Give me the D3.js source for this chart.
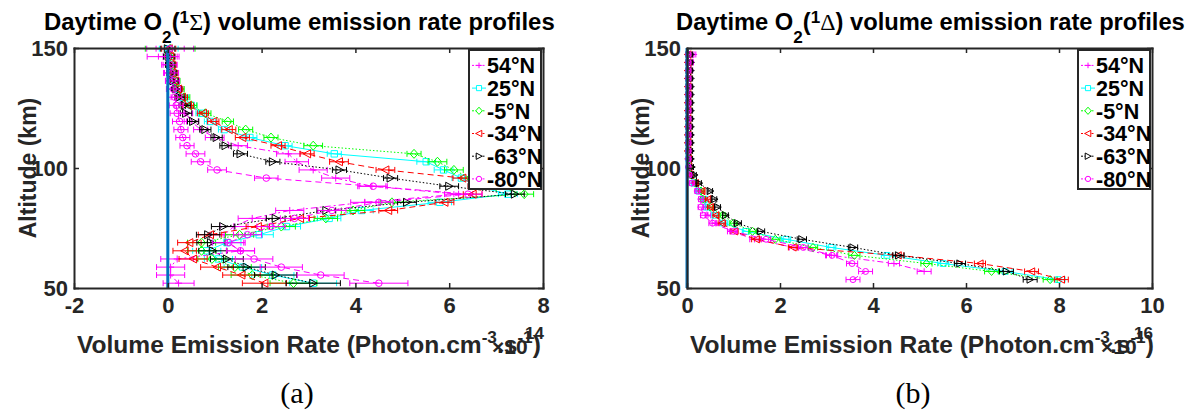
<!DOCTYPE html>
<html>
<head>
<meta charset="utf-8">
<script src="https://cdn.jsdelivr.net/npm/d3@7"></script>
<style>
body { margin: 0; background: #fff; }
svg { font-family: "Liberation Sans", Arial, sans-serif; }
</style>
</head>
<body>
<svg id="chart" width="1192" height="414"></svg>
<script>
// latitude bands (legend)
const latitudes = ["54°N", "25°N", "-5°N", "-34°N", "-63°N", "-80°N"];

// panel (a): O2(1Sigma) VER, units 1e14 photon/cm3/s
const altSigma = [52, 55.4, 58.7, 62.1, 65.5, 68.9, 72.2, 75.6, 79, 82.3, 85.7, 89.1, 92.4, 95.8, 99.2,
  102.6, 105.9, 109.3, 112.7, 116, 119.4, 122.8, 126.1, 129.5, 132.9, 136.3, 139.6, 143, 146.4, 149.7];
const sigma54  = [0.23, 0.06, 0.06, 0.2, 1.55, 1.27, 1.2, 1.41, 1.8, 2.6, 4.2, 6.2, 4.35, 3.58, 3.1,
  2.75, 2.57, 1.5, 1.0, 0.7, 0.5, 0.38, 0.3, 0.22, 0.15, 0.1, 0.06, 0.02, -0.1, 0.05];
const sigma25  = [3.1, 2.24, 1.6, 1.08, 0.83, 1.26, 1.95, 2.53, 3.44, 4.13, 5.8, 7.25, 6.6, 6.26, 5.88,
  5.51, 3.55, 2.5, 1.75, 1.2, 0.9, 0.72, 0.5, 0.32, 0.22, 0.15, 0.1, 0.06, 0.04, 0.02];
const sigmaM5  = [2.68, 1.8, 1.43, 0.94, 0.72, 0.72, 1.53, 2.42, 3.37, 3.95, 4.78, 7.6, 7.0, 6.45, 6.1,
  5.75, 5.25, 3.1, 2.2, 1.66, 1.28, 0.8, 0.5, 0.35, 0.25, 0.16, 0.1, 0.06, 0.03, 0.05];
const sigmaM34 = [2.06, 1.57, 1.05, 0.54, 0.36, 0.46, 0.9, 1.92, 2.82, 4.7, 5.9, 6.5, 6.6, 6.28, 4.64,
  3.65, 2.97, 2.35, 1.59, 1.3, 0.97, 0.75, 0.43, 0.3, 0.22, 0.15, 0.1, 0.08, 0.05, 0.02];
const sigmaM63 = [3.1, 2.3, 1.68, 1.26, 0.96, 0.92, 0.86, 1.18, 2.3, 3.38, 5.1, 7.4, 6.0, 4.75, 3.66,
  2.24, 1.55, 1.23, 1.04, 0.8, 0.54, 0.39, 0.36, 0.25, 0.18, 0.12, 0.08, 0.05, 0.03, 0.0];
const sigmaM80 = [4.5, 3.26, 2.42, 1.84, 1.55, 1.3, 1.7, 2.2, 2.7, 3.5, 4.5, 6.4, 4.38, 2.1, 1.05,
  0.7, 0.59, 0.41, 0.32, 0.28, 0.25, 0.2, 0.18, 0.15, 0.12, 0.1, 0.08, 0.05, 0.0, 0.05];

// error half widths, panel (a)
const errSigma54  = [0.33, 0.3, 0.3, 0.35, 0.3, 0.35, 0.3, 0.3, 0.3, 0.3, 0.3, 0.3, 0.3, 0.3, 0.3,
  0.25, 0.25, 0.2, 0.2, 0.15, 0.15, 0.15, 0.15, 0.15, 0.15, 0.15, 0.15, 0.15, 0.34, 0.5];
const errSigma25  = [0.5, 0.45, 0.4, 0.3, 0.3, 0.3, 0.3, 0.3, 0.25, 0.25, 0.25, 0.2, 0.2, 0.2, 0.2,
  0.2, 0.15, 0.15, 0.15, 0.12, 0.12, 0.12, 0.12, 0.12, 0.1, 0.1, 0.1, 0.1, 0.1, 0.2];
const errSigmaM5  = [0.5, 0.45, 0.35, 0.3, 0.3, 0.3, 0.3, 0.3, 0.25, 0.25, 0.25, 0.2, 0.2, 0.2, 0.2,
  0.2, 0.15, 0.2, 0.15, 0.15, 0.12, 0.12, 0.12, 0.12, 0.1, 0.1, 0.1, 0.1, 0.1, 0.53];
const errSigmaM34 = [0.47, 0.4, 0.35, 0.3, 0.25, 0.25, 0.25, 0.25, 0.2, 0.2, 0.2, 0.2, 0.2, 0.2, 0.2,
  0.2, 0.15, 0.15, 0.15, 0.15, 0.12, 0.12, 0.12, 0.12, 0.1, 0.1, 0.1, 0.1, 0.1, 0.15];
const errSigmaM63 = [0.58, 0.45, 0.4, 0.35, 0.3, 0.3, 0.25, 0.25, 0.2, 0.2, 0.2, 0.2, 0.2, 0.15, 0.15,
  0.15, 0.15, 0.12, 0.12, 0.12, 0.12, 0.12, 0.12, 0.1, 0.1, 0.1, 0.1, 0.1, 0.12, 0.15];
const errSigmaM80 = [0.62, 0.5, 0.45, 0.4, 0.3, 0.35, 0.3, 0.3, 0.3, 0.3, 0.3, 0.3, 0.3, 0.25, 0.2,
  0.2, 0.2, 0.15, 0.15, 0.15, 0.15, 0.15, 0.15, 0.15, 0.15, 0.15, 0.15, 0.15, 0.2, 0.3];

// panel (b): O2(1Delta) VER, units 1e16 photon/cm3/s
const altDelta = [53.5, 56.9, 60.2, 63.6, 66.9, 70.3, 73.6, 77, 80.3, 83.7, 87, 90.4, 93.7, 97.1, 100.4,
  103.8, 107.1, 110.5, 113.8, 117.2, 120.5, 123.9, 127.2, 130.6, 133.9, 137.3, 140.6, 144, 147.3];
const delta54  = [null, 5.1, 4.45, 3.1, 2.3, 1.45, 0.95, 0.62, 0.45, 0.4, 0.35, 0.25, 0.15, 0.1, 0.06,
  0.05, 0.05, 0.05, 0.05, 0.05, 0.05, 0.05, 0.05, 0.05, 0.05, 0.06, 0.08, 0.1, 0.15];
const delta25  = [7.98, 6.84, 5.51, 4.3, 3.1, 2.13, 1.27, 0.8, 0.6, 0.42, 0.38, 0.25, 0.15, 0.1, 0.05,
  0.04, 0.03, 0.03, 0.03, 0.03, 0.03, 0.03, 0.03, 0.03, 0.03, 0.03, 0.03, 0.03, 0.03];
const deltaM5  = [7.81, 6.55, 5.15, 3.6, 2.71, 1.9, 1.41, 1.0, 0.77, 0.5, 0.34, 0.3, 0.18, 0.08, 0.05,
  0.04, 0.03, 0.03, 0.03, 0.03, 0.03, 0.03, 0.03, 0.03, 0.03, 0.03, 0.03, 0.03, 0.03];
const deltaM34 = [8.05, 7.41, 6.3, 4.54, 2.28, 1.49, 1.02, 0.75, 0.62, 0.5, 0.45, 0.32, 0.18, 0.08, 0.04,
  0.03, 0.02, 0.02, 0.02, 0.02, 0.02, 0.02, 0.02, 0.02, 0.02, 0.02, 0.02, 0.02, 0.02];
const deltaM63 = [7.38, 6.87, 5.87, 4.55, 3.57, 2.47, 1.59, 1.09, 0.83, 0.66, 0.59, 0.5, 0.26, 0.16, 0.1,
  0.08, 0.08, 0.08, 0.08, 0.08, 0.08, 0.08, 0.08, 0.08, 0.08, 0.08, 0.08, 0.08, 0.08];
const deltaM80 = [3.57, 3.84, 3.55, 3.12, 2.5, 1.7, 1.0, 0.55, 0.35, 0.3, 0.3, 0.22, 0.1, 0.05, 0.03,
  0.03, 0.03, 0.03, 0.03, 0.03, 0.03, 0.03, 0.03, 0.03, 0.03, 0.03, 0.03, 0.03, 0.03];
// error half widths, panel (b) (same for all bands)
const errDelta = [0.15, 0.15, 0.12, 0.12, 0.1, 0.1, 0.08, 0.08, 0.06, 0.06, 0.05, 0.05, 0.05, 0.04, 0.04,
  0.04, 0.04, 0.04, 0.04, 0.04, 0.04, 0.04, 0.04, 0.04, 0.04, 0.04, 0.04, 0.04, 0.04];

const xTicksSigma = [-2, 0, 2, 4, 6, 8];
const xTicksDelta = [0, 2, 4, 6, 8, 10];
const yTicks = [50, 100, 150];

// ---- styles ----
const axisColor = "#262626"
const plotTop = 48, plotBottom = 288
const styles = [
  {color: "#ff00ff", dash: "6,3,2,3", marker: "+"},
  {color: "#00ffff", dash: null, marker: "s"},
  {color: "#00ff00", dash: "1.5,2", marker: "d"},
  {color: "#ff0000", dash: "6,4", marker: "<"},
  {color: "#000000", dash: "1.5,2", marker: ">"},
  {color: "#ff00ff", dash: "6,4", marker: "o"}
]
const markerPaths = {
  "+": "M-3.5,0H3.5M0,-3.5V3.5",
  "s": "M-3.2,-3.2H3.2V3.2H-3.2Z",
  "d": "M0,-4.5L4,0L0,4.5L-4,0Z",
  "<": "M-4,0L3.5,-4L3.5,4Z",
  ">": "M4,0L-3.5,-4L-3.5,4Z",
  "o": "M3.3,0A3.3,3.3 0 1,1 -3.3,0A3.3,3.3 0 1,1 3.3,0Z"
}

const svg = d3.select("#chart")
svg.append("rect").attr("width", 1192).attr("height", 414).attr("fill", "#fff")

// scale font so text spans the wanted width
function fitWidth(t, target){
  const w = t.node().getComputedTextLength()
  const fs = parseFloat(t.attr("font-size"))
  t.attr("font-size", fs * target / w)
}

function drawPanel(p){
  const x = d3.scaleLinear().domain(p.xDomain).range([p.left, p.right])
  const y = d3.scaleLinear().domain([50, 150]).range([plotBottom, plotTop])
  const g = svg.append("g")
  const cap = 3

  // profiles
  p.series.forEach(function(vals, i){
    const st = styles[i]
    const pts = p.alts.map((a, k) => ({a: a, v: vals[k], e: p.errs[i][k]})).filter(d => d.v != null)
    const sg = g.append("g")

    sg.append("path")
      .datum(pts)
      .attr("fill", "none")
      .attr("stroke", st.color)
      .attr("stroke-width", 1)
      .attr("stroke-dasharray", st.dash)
      .attr("d", d3.line().x(d => x(d.v)).y(d => y(d.a)))

    sg.selectAll(".eb")
      .data(pts)
      .enter()
      .append("path")
      .attr("fill", "none")
      .attr("stroke", st.color)
      .attr("stroke-width", 1)
      .attr("d", function(d){
        const x0 = x(d.v - d.e), x1 = x(d.v + d.e), yy = y(d.a)
        return "M" + x0 + "," + yy + "H" + x1 +
          "M" + x0 + "," + (yy - cap) + "V" + (yy + cap) +
          "M" + x1 + "," + (yy - cap) + "V" + (yy + cap)
      })

    sg.selectAll(".mk")
      .data(pts)
      .enter()
      .append("path")
      .attr("d", markerPaths[st.marker])
      .attr("transform", d => "translate(" + x(d.v) + "," + y(d.a) + ") scale(" + p.markerScale + ")")
      .attr("fill", "none")
      .attr("stroke", st.color)
      .attr("stroke-width", 1)
      .attr("vector-effect", "non-scaling-stroke")
  })

  // zero line
  g.append("line")
    .attr("x1", x(0)).attr("x2", x(0))
    .attr("y1", y(50)).attr("y2", y(150))
    .attr("stroke", "#0072bd")
    .attr("stroke-width", 3)

  // axes box
  const styleAxis = function(a){
    a.attr("font-family", "Liberation Sans, Arial, sans-serif")
    a.select(".domain").attr("stroke", axisColor).attr("stroke-width", 2).attr("stroke-linecap", "square")
    a.selectAll(".tick line").attr("stroke", axisColor).attr("stroke-width", 1.5)
    a.selectAll(".tick text")
      .attr("font-size", 22)
      .attr("font-weight", "bold")
      .attr("fill", axisColor)
  }
  g.append("g")
    .attr("transform", "translate(0," + plotBottom + ")")
    .call(d3.axisBottom(x).tickValues(p.xTicks).tickSize(-5).tickSizeOuter(0).tickPadding(9).tickFormat(d => String(d)))
    .call(styleAxis)
  g.append("g")
    .attr("transform", "translate(0," + plotTop + ")")
    .call(d3.axisTop(x).tickValues(p.xTicks).tickSize(-5).tickSizeOuter(0).tickFormat(""))
    .call(styleAxis)
  g.append("g")
    .attr("transform", "translate(" + p.left + ",0)")
    .call(d3.axisLeft(y).tickValues(yTicks).tickSize(-5).tickSizeOuter(0).tickPadding(6).tickFormat(d => String(d)))
    .call(styleAxis)
  g.append("g")
    .attr("transform", "translate(" + p.right + ",0)")
    .call(d3.axisRight(y).tickValues(yTicks).tickSize(-5).tickSizeOuter(0).tickFormat(""))
    .call(styleAxis)

  // legend
  const lg = g.append("g").attr("transform", "translate(" + (p.right - 74) + "," + (plotTop + 2) + ")")
  lg.append("rect")
    .attr("width", 72).attr("height", 139)
    .attr("fill", "#fff")
    .attr("stroke", axisColor)
    .attr("stroke-width", 2)
  latitudes.forEach(function(lab, i){
    const st = styles[i]
    const yy = 15.4 + i * 22.7
    lg.append("line")
      .attr("x1", 3).attr("x2", 17).attr("y1", yy).attr("y2", yy)
      .attr("stroke", st.color).attr("stroke-width", 1)
      .attr("stroke-dasharray", st.dash ? "2,1.5" : null)
    lg.append("path")
      .attr("d", markerPaths[st.marker])
      .attr("transform", "translate(10," + yy + ") scale(0.8)")
      .attr("fill", "#fff")
      .attr("stroke", st.color)
      .attr("vector-effect", "non-scaling-stroke")
    lg.append("text")
      .attr("x", 18).attr("y", yy).attr("dy", "0.36em")
      .attr("font-size", 21.5).attr("font-weight", "bold")
      .attr("fill", "#000")
      .text(lab)
  })

  // title
  const t = svg.append("text")
    .attr("x", p.titleX).attr("y", 30)
    .attr("font-size", 23.5).attr("font-weight", "bold").attr("fill", "#000")
  t.append("tspan").text("Daytime O")
  t.append("tspan").attr("font-size", "72%").attr("dy", 13).text("2")
  t.append("tspan").attr("dy", -13).text("(")
  t.append("tspan").attr("font-size", "72%").attr("dy", -7).text("1")
  t.append("tspan").attr("dy", 7).attr("font-family", "Liberation Serif, serif").attr("font-weight", "normal").text(p.symbol)
  t.append("tspan").text(") volume emission rate profiles")
  fitWidth(t, p.titleWidth)

  // y label
  svg.append("text")
    .attr("transform", "translate(" + (p.left - 38) + "," + ((plotTop + plotBottom) / 2) + ") rotate(-90)")
    .attr("text-anchor", "middle")
    .attr("font-size", 23).attr("font-weight", "bold").attr("fill", axisColor)
    .text("Altitude (km)")

  // x label
  const xl = svg.append("text")
    .attr("x", p.left + 3).attr("y", 353)
    .attr("font-size", 23).attr("font-weight", "bold").attr("fill", axisColor)
  xl.append("tspan").text("Volume Emission Rate (Photon.cm")
  xl.append("tspan").attr("font-size", "70%").attr("dy", -10).text("-3")
  xl.append("tspan").attr("dy", 10).text(".s")
  xl.append("tspan").attr("font-size", "70%").attr("dy", -10).text("-1")
  xl.append("tspan").attr("dy", 10).text(")")
  fitWidth(xl, 464)

  // exponent
  svg.append("text")
    .attr("x", p.right - 51).attr("y", 354)
    .attr("font-size", 21).attr("font-weight", "bold").attr("fill", axisColor)
    .text("×10")
  svg.append("text")
    .attr("x", p.right - 18).attr("y", 339)
    .attr("font-size", 17).attr("font-weight", "bold").attr("fill", axisColor)
    .text(p.exponent)

  // sub-figure tag
  svg.append("text")
    .attr("x", p.tagX).attr("y", 403)
    .attr("text-anchor", "middle")
    .attr("font-family", "Liberation Serif, serif")
    .attr("font-size", 30)
    .attr("fill", "#000")
    .text(p.tag)
}

drawPanel({
  left: 74, right: 543,
  xDomain: [-2, 8], xTicks: xTicksSigma,
  alts: altSigma,
  series: [sigma54, sigma25, sigmaM5, sigmaM34, sigmaM63, sigmaM80],
  errs: [errSigma54, errSigma25, errSigmaM5, errSigmaM34, errSigmaM63, errSigmaM80],
  markerScale: 1,
  symbol: "Σ", titleX: 44, titleWidth: 511,
  exponent: "14", tag: "(a)", tagX: 297
})

drawPanel({
  left: 687, right: 1152,
  xDomain: [0, 10], xTicks: xTicksDelta,
  alts: altDelta,
  series: [delta54, delta25, deltaM5, deltaM34, deltaM63, deltaM80],
  errs: [errDelta, errDelta, errDelta, errDelta, errDelta, errDelta],
  markerScale: 0.9,
  symbol: "Δ", titleX: 676, titleWidth: 509,
  exponent: "16", tag: "(b)", tagX: 913
})
</script>
</body>
</html>
